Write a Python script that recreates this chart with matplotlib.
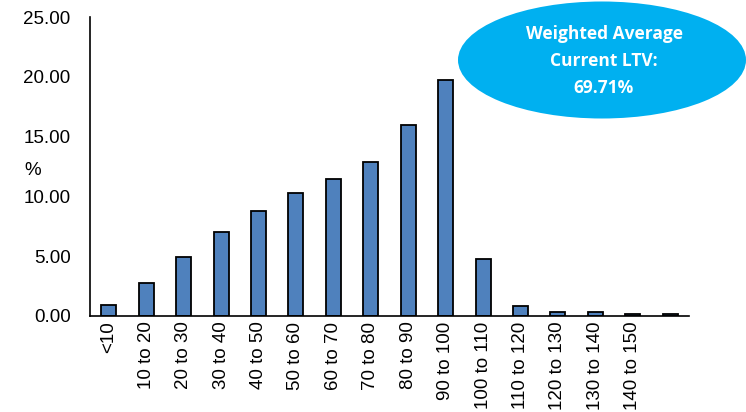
import matplotlib
matplotlib.use("Agg")
import matplotlib.pyplot as plt
import numpy as np
from matplotlib.patches import Ellipse

plt.rcParams['font.family'] = ['Liberation Sans', 'DejaVu Sans']

# LTV buckets (last bucket carries no label in the source)
categories = ['<10', '10 to 20', '20 to 30', '30 to 40', '40 to 50', '50 to 60',
              '60 to 70', '70 to 80', '80 to 90', '90 to 100', '100 to 110',
              '110 to 120', '120 to 130', '130 to 140', '140 to 150', '']
values = [0.95, 2.8, 4.9, 7.0, 8.75, 10.3, 11.45, 12.85, 15.95, 19.7, 4.8,
          0.8, 0.35, 0.35, 0.15, 0.15]
yticks = [0, 5, 10, 15, 20, 25]
callout = "Weighted Average\nCurrent LTV:\n69.71%"

W, H = 746, 412
fig = plt.figure(figsize=(W / 100, H / 100), dpi=100)
ax = fig.add_axes([90 / W, 1 - 316 / H, 599 / W, 299 / H])

x = np.arange(len(categories))
ax.bar(x, values, width=0.4, color='#4F81BD', edgecolor='black', linewidth=1.3)

ax.set_xlim(-0.5, len(categories) - 0.5)
ax.set_ylim(0, 25)
ax.set_yticks(yticks)
ax.set_yticklabels(['%.2f' % v for v in yticks], fontsize=13.5)
ax.set_xticks(x)
ax.set_xticklabels(categories, rotation=90, fontsize=13.5)
ax.tick_params(axis='x', length=0, pad=4)
ax.tick_params(axis='y', length=0, pad=14)

for s in ['top', 'right']:
    ax.spines[s].set_visible(False)
ax.spines['left'].set_linewidth(1.2)
ax.spines['bottom'].set_linewidth(1.2)

fig.text(33 / W, 1 - 171 / H, '%', fontsize=13.5, ha='center', va='center')

# callout bubble
ell = Ellipse((602 / W, 1 - 60 / H), 288 / W, 117 / H, transform=fig.transFigure,
              facecolor='#00B0F0', edgecolor='none')
fig.patches.append(ell)
fig.text(604 / W, 1 - 61 / H, callout, color='white', fontsize=12.5,
         fontweight='bold', ha='center', va='center', linespacing=1.62,
         family=['Open Sans', 'DejaVu Sans'])

fig.savefig('out.png', dpi=100)
